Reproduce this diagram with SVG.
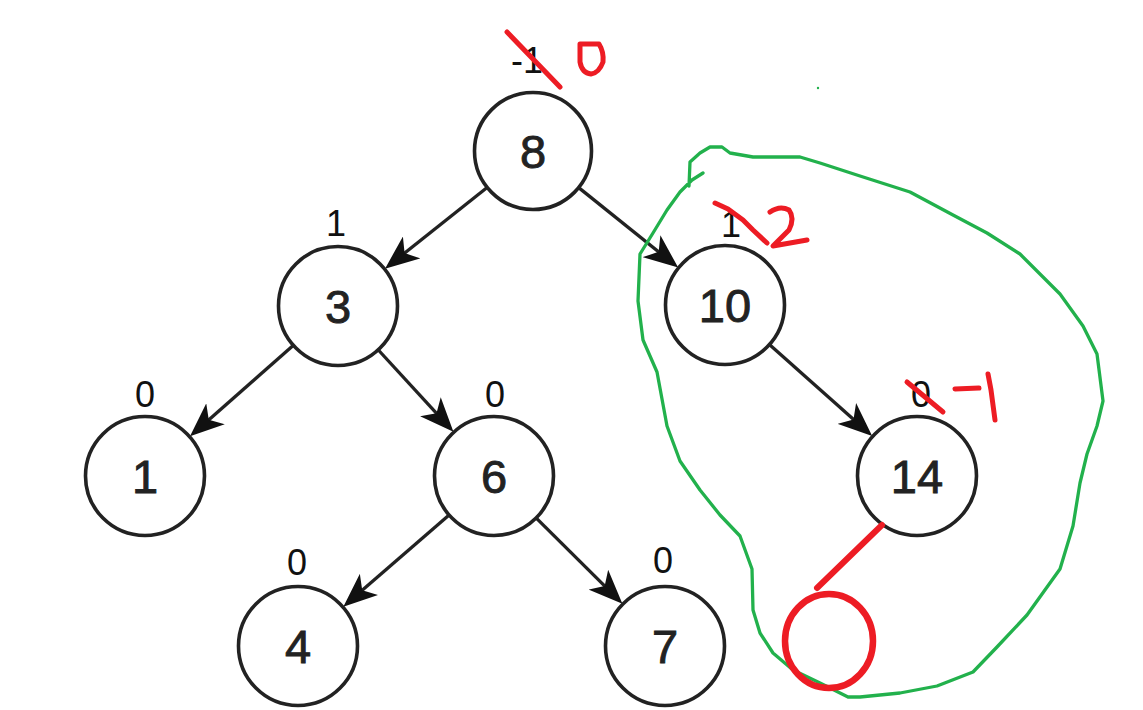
<svg xmlns="http://www.w3.org/2000/svg" width="1143" height="710" viewBox="0 0 1143 710">
<style>
.node circle{fill:#fff;stroke:#222;stroke-width:3.6}
.node text{font-family:"Liberation Sans",Arial,sans-serif;font-size:47px;fill:#222;stroke:#222;stroke-width:0.9;text-anchor:middle}
.bal{font-family:"Liberation Sans",Arial,sans-serif;font-size:36px;fill:#111;text-anchor:middle}
.edge{stroke:#222;stroke-width:3.3;fill:none;marker-end:url(#arr)}
.red{stroke:#ed1c24;fill:none;stroke-linecap:round;stroke-linejoin:round}
</style>
<defs>
<marker id="arr" viewBox="0 0 34 28" refX="22" refY="14" markerWidth="34" markerHeight="28" markerUnits="userSpaceOnUse" orient="auto">
<path d="M0,0 L34,14 L0,28 L9,14 Z" fill="#111"/>
</marker>
</defs>
<rect width="1143" height="710" fill="#fff"/>
<g id="connectors">
<line class="edge" x1="486.8" y1="187.7" x2="394.4" y2="261.2"/>
<line class="edge" x1="579.0" y1="187.9" x2="668.8" y2="260.0"/>
<line class="edge" x1="293.7" y1="345.0" x2="199.0" y2="428.4"/>
<line class="edge" x1="377.9" y1="349.5" x2="445.3" y2="422.9"/>
<line class="edge" x1="769.1" y1="344.2" x2="863.2" y2="428.1"/>
<line class="edge" x1="449.4" y1="514.7" x2="352.4" y2="598.8"/>
<line class="edge" x1="535.8" y1="517.6" x2="613.9" y2="595.2"/>
</g>
<g id="node-8" class="node"><circle cx="533" cy="151" r="58.5"/><text x="533" y="168">8</text></g>
<g id="node-3" class="node"><circle cx="338" cy="306" r="59.5"/><text x="338" y="323">3</text></g>
<g id="node-10" class="node"><circle cx="725" cy="305" r="59.5"/><text x="725" y="322">10</text></g>
<g id="node-1" class="node"><circle cx="145" cy="476" r="59.5"/><text x="145" y="493">1</text></g>
<g id="node-6" class="node"><circle cx="494" cy="476" r="59.5"/><text x="494" y="493">6</text></g>
<g id="node-14" class="node"><circle cx="917" cy="476" r="59.5"/><text x="917" y="493">14</text></g>
<g id="node-4" class="node"><circle cx="298" cy="646" r="59.5"/><text x="298" y="663">4</text></g>
<g id="node-7" class="node"><circle cx="665" cy="646" r="59.5"/><text x="665" y="663">7</text></g>
<g id="balance-labels">
<text class="bal" x="527" y="73">-1</text>
<text class="bal" x="336" y="236">1</text>
<text class="bal" x="145" y="407">0</text>
<text class="bal" x="495" y="407">0</text>
<text class="bal" x="731" y="237">1</text>
<text class="bal" x="921" y="407">0</text>
<text class="bal" x="297" y="575">0</text>
<text class="bal" x="663" y="573">0</text>
</g>
<g id="green-outline">
<path d="M689,186 L690,162 L700,153 L710,147 L722,147 L730,153 L753,157 L800,157 L820,163 L860,176 L910,192 L953,215 L987,233 L1020,254 L1060,294 L1083,326 L1097,354 L1103,401 L1097,426 L1087,454 L1080,483 L1073,526 L1060,569 L1027,615 L997,647 L973,672 L937,686 L900,693 L860,697 L848,697 L820,683 L793,670 L773,653 L760,633 L753,610 L752,569 L740,536 L720,515 L700,490 L680,461 L667,426 L657,372 L643,340 L638,301 L640,254 L653,233 L667,210 L680,192 L692,180 L703,173" fill="none" stroke="#22b14c" stroke-width="3.3" stroke-linejoin="round" stroke-linecap="round"/>
<circle cx="818" cy="88" r="1.2" fill="#22b14c"/>
</g>
<g id="red-annotations">
<path class="red" stroke-width="5" d="M507,32 L560,87"/>
<path class="red" stroke-width="5" d="M580,44 L599,44 Q604,52 603,62 Q599,73 591,74 Q582,73 580,62 Z"/>
<path class="red" stroke-width="5" d="M715,203 L728,209 L743,220 L753,230 L767,243"/>
<path class="red" stroke-width="5" d="M770,212 Q780,205 789,210 Q795,218 789,230 L773,246 L807,240"/>
<path class="red" stroke-width="5" d="M907,382 L943,412"/>
<path class="red" stroke-width="5" d="M955,389 L979,388"/>
<path class="red" stroke-width="5" d="M988,374 L991,390 L995,420"/>
<path class="red" stroke-width="6" d="M882,525 L817,588"/>
<ellipse class="red" stroke-width="6.5" cx="829" cy="641" rx="44" ry="47"/>
</g>
</svg>
